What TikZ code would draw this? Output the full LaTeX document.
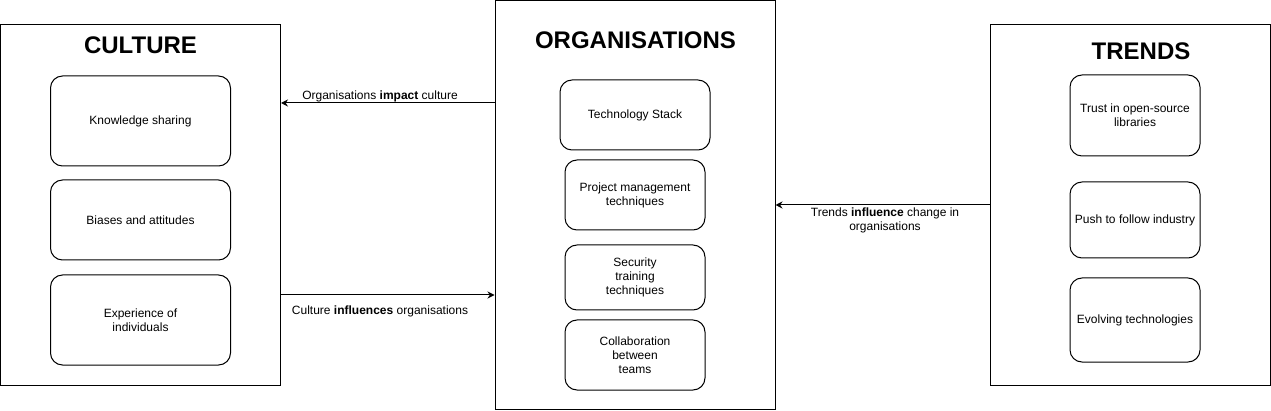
\documentclass[tikz,border=0pt]{standalone}
\usepackage{fontspec}
\setmainfont{Liberation Sans}
\usetikzlibrary{arrows.meta}
\begin{document}
\begin{tikzpicture}[
		x=1pt, y=-1pt,
		every node/.style={align=center, font=\fontsize{12}{14}\selectfont, line width=1pt},
		outer/.style={draw, rectangle, minimum width=280pt, minimum height=360pt},
		item/.style={draw, rectangle, rounded corners=12pt, minimum width=180pt, minimum height=90pt},
		title/.style={font=\fontsize{24}{28}\selectfont\bfseries},
		arrow/.style={-{Stealth[length=7pt, width=7pt]}, line width=1pt},
	]
	\useasboundingbox (0,0) rectangle (1271,411);

	% three groups
	\node[outer] (culture) at (140.5, 205) {};
	\node[outer, minimum height=409pt] (org) at (635, 205) {};
	\node[outer] (trends) at (1130, 205) {};

	\node[title] (cultureT) at (140.5, 45) {CULTURE};
	\node[title] (orgT) at (635.5, 40.5) {ORGANISATIONS};
	\node[title] (trendsT) at (1141, 51) {TRENDS};

	% culture
	\node[item] (ks) at (140.5, 121) {Knowledge sharing};
	\node[item, minimum height=80pt] (bias) at (140.5, 220) {Biases and attitudes};
	\node[item] (exp) at (140.5, 320) {Experience of\\individuals};

	% organisations
	\node[item, minimum width=150pt, minimum height=70pt] (tech) at (635, 115) {Technology Stack};
	\node[item, minimum width=140pt, minimum height=70pt] (pm) at (635, 195) {Project management\\techniques};
	\node[item, minimum width=140pt, minimum height=65pt] (sec) at (635, 277.5) {Security\\training\\techniques};
	\node[item, minimum width=140pt, minimum height=70pt] (collab) at (635, 355) {Collaboration\\between\\teams};

	% trends
	\node[item, minimum width=130pt, minimum height=81pt] (trust) at (1135, 115.5) {Trust in open-source\\libraries};
	\node[item, minimum width=130pt, minimum height=76pt] (push) at (1135, 220) {Push to follow industry};
	\node[item, minimum width=130pt, minimum height=84pt] (evolve) at (1135, 320) {Evolving technologies};

	% links
	\draw[arrow] (org.west |- 0,103) -- (culture.east |- 0,103);
	\draw[arrow] (culture.east |- 0,295) -- (org.west |- 0,295);
	\draw[arrow] (trends.west) -- (org.east);

	\node (impactL) at (380, 96) {Organisations \textbf{impact} culture};
	\node (influencesL) at (380, 311) {Culture \textbf{influences} organisations};
	\node (trendsL) at (885, 220.5) {Trends \textbf{influence} change in\\organisations};
\end{tikzpicture}
\end{document}
